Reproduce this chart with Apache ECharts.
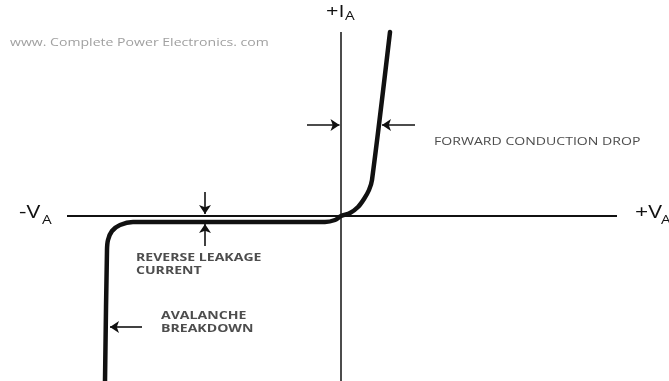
<!DOCTYPE html>
<html>
<head>
<meta charset="utf-8">
<script src="https://cdn.jsdelivr.net/npm/echarts@6/dist/echarts.min.js"></script>
<style>
  html, body { margin: 0; padding: 0; background: #fff; }
  #chart { width: 669px; height: 381px; }
</style>
</head>
<body>
<div id="chart"></div>
<script>
// axes of the V-I plane (voltage on x, current on y, arbitrary units)
var axisV = [[-27.4, 0], [27.6, 0]]
var axisI = [[0, 18.4], [0, -16.5]]

// diode characteristic, from avalanche region up to forward conduction
var curve = [
  [-23.6, -16.5], [-23.4, -3.4], [-23.3, -2.4], [-22.9, -1.5], [-22.1, -0.9],
  [-20.8, -0.6], [-1.6, -0.6], [-0.6, -0.4], [0, 0], [0.9, 0.3], [1.7, 0.9],
  [2.3, 1.7], [2.8, 2.6], [3.1, 3.6], [4.9, 18.4]
]

// annotation arrows [from, to]
var arrows = [
  [[-13.6, 2.4], [-13.6, 0.2]],
  [[-13.6, -3.0], [-13.6, -0.8]],
  [[-3.4, 9.1], [-0.15, 9.1]],
  [[7.4, 9.1], [4.1, 9.1]],
  [[-19.9, -11.1], [-23.1, -11.1]]
]

var chart = echarts.init(document.getElementById('chart'))
var labelColor = '#4d4d4d'
var stretch = 1.28 // the source picture is stretched sideways

function txt(x, y, text, size, color, weight, lh) {
  return {
    type: 'text', x: x, y: y, scaleX: stretch,
    style: {
      text: text, fill: color, verticalAlign: 'top',
      font: (weight || 'normal') + ' ' + size + 'px "Open Sans"',
      lineHeight: lh || size
    }
  }
}

chart.setOption({
  animation: false,
  grid: { left: 0, right: 0, top: 0, bottom: 0 },
  xAxis: { type: 'value', min: -34.1, max: 32.8, show: false },
  yAxis: { type: 'value', min: -16.5, max: 21.6, show: false },
  series: [
    {
      type: 'line', data: axisV, showSymbol: false,
      lineStyle: { color: '#111', width: 2 }
    },
    {
      type: 'line', data: axisI, showSymbol: false,
      lineStyle: { color: '#111', width: 1.5 }
    },
    {
      type: 'line', data: curve, showSymbol: false, smooth: 0.3,
      lineStyle: { color: '#111', width: 4.5, cap: 'round', join: 'round' }
    },
    {
      type: 'lines', coordinateSystem: 'cartesian2d',
      symbol: ['none', 'arrow'], symbolSize: 9,
      lineStyle: { color: '#111', width: 1.6, opacity: 1 },
      data: arrows.map(function (a) { return { coords: a } })
    }
  ],
  graphic: [
    txt(10, 37, 'www. Complete Power Electronics. com', 11, '#a0a0a0'),
    txt(326, 4, '+I', 17, '#111'),
    txt(345, 11, 'A', 12, '#111'),
    txt(19, 204, '-V', 18, '#111'),
    txt(42, 215, 'A', 12, '#111'),
    txt(635, 204, '+V', 18, '#111'),
    txt(661, 215, 'A', 12, '#111'),
    txt(434, 136, 'FORWARD CONDUCTION DROP', 11, labelColor),
    txt(136, 251, 'REVERSE LEAKAGE\nCURRENT', 11, labelColor, 'bold', 13),
    txt(161, 309, 'AVALANCHE\nBREAKDOWN', 11, labelColor, 'bold', 13)
  ]
})
</script>
</body>
</html>
